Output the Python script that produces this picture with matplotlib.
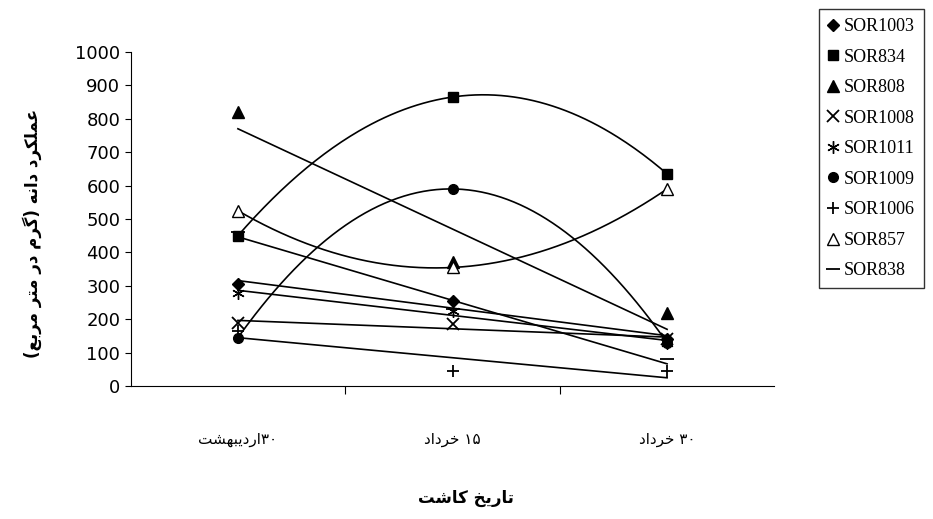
import matplotlib
matplotlib.use("Agg")
import matplotlib.pyplot as plt
import numpy as np
import re

FORMS = {
 'ا':('\uFE8D','\uFE8E',None,None),'ب':('\uFE8F','\uFE90','\uFE91','\uFE92'),
 'ت':('\uFE95','\uFE96','\uFE97','\uFE98'),'خ':('\uFEA5','\uFEA6','\uFEA7','\uFEA8'),
 'د':('\uFEA9','\uFEAA',None,None),'ر':('\uFEAD','\uFEAE',None,None),
 'ش':('\uFEB5','\uFEB6','\uFEB7','\uFEB8'),'ع':('\uFEC9','\uFECA','\uFECB','\uFECC'),
 'ل':('\uFEDD','\uFEDE','\uFEDF','\uFEE0'),'م':('\uFEE1','\uFEE2','\uFEE3','\uFEE4'),
 'ن':('\uFEE5','\uFEE6','\uFEE7','\uFEE8'),'ه':('\uFEE9','\uFEEA','\uFEEB','\uFEEC'),
 'ک':('\uFB8E','\uFB8F','\uFB90','\uFB91'),'گ':('\uFB92','\uFB93','\uFB94','\uFB95'),
 'ی':('\uFBFC','\uFBFD','\uFBFE','\uFBFF'),
}
def joins_next(c):
    return c in FORMS and FORMS[c][2] is not None
def shape(s):
    out = []
    for i, c in enumerate(s):
        if c not in FORMS:
            out.append(c); continue
        prev = s[i-1] if i > 0 else ''
        nxt = s[i+1] if i+1 < len(s) else ''
        jp = joins_next(prev)
        jn = joins_next(c) and nxt in FORMS
        f = FORMS[c]
        if jp and jn: out.append(f[3])
        elif jp: out.append(f[1])
        elif jn: out.append(f[2])
        else: out.append(f[0])
    r = ''.join(out)[::-1]
    r = re.sub(r'[۰-۹]+', lambda m: m.group(0)[::-1], r)
    r = r.translate(str.maketrans('()', ')('))
    return r

dates = ["۳۰اردیبهشت", "۱۵ خرداد", "۳۰ خرداد"]
ylabel = "عملکرد دانه (گرم در متر مربع)"
xlabel = "تاریخ کاشت"

names = ["SOR1003","SOR834","SOR808","SOR1008","SOR1011","SOR1009","SOR1006","SOR857","SOR838"]
values = {
 "SOR1003":[305,255,140],
 "SOR834":[450,865,635],
 "SOR808":[820,370,220],
 "SOR1008":[190,185,140],
 "SOR1011":[280,225,130],
 "SOR1009":[145,590,130],
 "SOR1006":[165,45,45],
 "SOR857":[525,355,590],
 "SOR838":[460,230,80],
}
trend_deg = {"SOR834":2,"SOR1009":2,"SOR857":2}
markers = {"SOR1003":('D',6,True),"SOR834":('s',7,True),"SOR808":('^',8,True),
 "SOR1008":('x',8,True),"SOR1011":((6,2,0),9,True),"SOR1009":('o',7,True),
 "SOR1006":('+',9,True),"SOR857":('^',8,False),"SOR838":('_',10,True)}

plt.rcParams['font.family'] = ['DejaVu Sans']
fig = plt.figure(figsize=(9.33,5.19), dpi=100)
ax = fig.add_axes([0.14, 0.256, 0.69, 0.644])
x = np.array([1,2,3])
xs = np.linspace(1,3,200)
handles=[]
for n in names:
    v = np.array(values[n])
    d = trend_deg.get(n,1)
    p = np.polyfit(x, v, d)
    ax.plot(xs, np.polyval(p, xs), color='black', lw=1.2)
    m, s, filled = markers[n]
    h, = ax.plot(x, v, linestyle='none', marker=m, markersize=s,
                 color='black', markerfacecolor='black' if filled else 'white',
                 markeredgewidth=1.3 if m in ('x','+','_') else 1.0, label=n)
    handles.append(h)

ax.set_xlim(0.5,3.5)
ax.set_ylim(0,1000)
ax.set_yticks(range(0,1001,100))
ax.set_xticks([1.5,2.5])
ax.set_xticklabels([])
for xi, t in zip(x, dates):
    ax.text(xi, -160, shape(t), ha='center', va='center', fontsize=11)
for s in ['top','right']:
    ax.spines[s].set_visible(False)
ax.tick_params(axis='y', labelsize=13, length=4)
ax.tick_params(axis='x', length=6)
fig.text(0.5, 0.04, shape(xlabel), ha='center', va='center', fontsize=12, fontweight='bold')
fig.text(0.035, 0.55, shape(ylabel), ha='center', va='center', fontsize=12, fontweight='bold', rotation=90)

leg = fig.legend(handles=handles, loc='upper right', bbox_to_anchor=(1.0, 1.0),
                 prop={'family':'Liberation Serif','size':13}, frameon=True, fancybox=False,
                 edgecolor='black', handlelength=0.6, handletextpad=0.3, labelspacing=0.75,
                 borderpad=0.5, numpoints=1)
leg.get_frame().set_linewidth(1.0)
fig.savefig("out.png", dpi=100)
